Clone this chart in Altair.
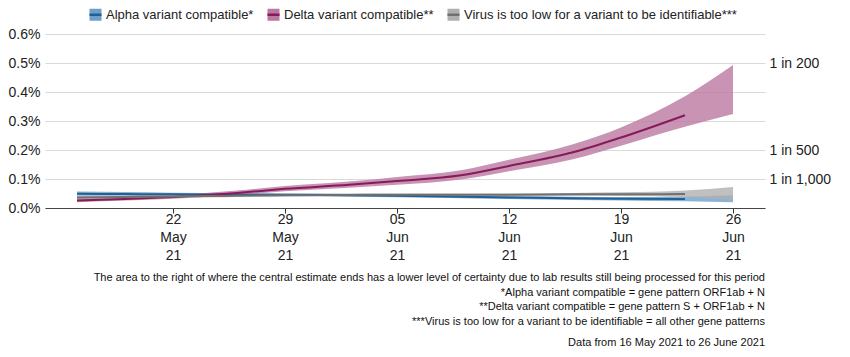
import altair as alt
import pandas as pd

series_names = [
    "Alpha variant compatible*",
    "Delta variant compatible**",
    "Virus is too low for a variant to be identifiable***",
]
line_colors = ["#206095", "#871a5b", "#707070"]
band_colors = ["#6f9fc9", "#bb79a1", "#b0b0b0"]

dates = ["2021-05-16", "2021-05-19", "2021-05-22", "2021-05-26", "2021-05-29",
         "2021-06-02", "2021-06-05", "2021-06-09", "2021-06-12", "2021-06-16",
         "2021-06-19", "2021-06-23", "2021-06-26"]

# values in percent
alpha_central = [0.049, 0.048, 0.047, 0.046, 0.046, 0.044, 0.042, 0.039, 0.036, 0.034, 0.032, 0.031, None]
alpha_low = [0.042, 0.042, 0.042, 0.041, 0.041, 0.039, 0.037, 0.034, 0.031, 0.028, 0.026, 0.023, 0.020]
alpha_high = [0.057, 0.055, 0.053, 0.051, 0.050, 0.049, 0.047, 0.044, 0.041, 0.039, 0.038, 0.040, 0.044]

delta_central = [0.026, 0.031, 0.038, 0.052, 0.066, 0.080, 0.093, 0.113, 0.145, 0.192, 0.243, 0.320, None]
delta_low = [0.020, 0.026, 0.032, 0.045, 0.058, 0.070, 0.080, 0.098, 0.127, 0.168, 0.215, 0.280, 0.324]
delta_high = [0.033, 0.037, 0.044, 0.060, 0.076, 0.091, 0.107, 0.130, 0.166, 0.220, 0.278, 0.385, 0.493]

grey_central = [0.036, 0.038, 0.040, 0.042, 0.044, 0.045, 0.046, 0.046, 0.046, 0.047, 0.047, 0.048, None]
grey_low = [0.031, 0.033, 0.035, 0.038, 0.040, 0.041, 0.042, 0.042, 0.042, 0.042, 0.041, 0.038, 0.028]
grey_high = [0.041, 0.043, 0.045, 0.047, 0.048, 0.049, 0.050, 0.050, 0.050, 0.052, 0.054, 0.060, 0.072]

left_ticks = [0, 0.1, 0.2, 0.3, 0.4, 0.5, 0.6]
right_ticks = [0.1, 0.2, 0.5]
x_tick_days = [(5, 22), (5, 29), (6, 5), (6, 12), (6, 19), (6, 26)]

footnotes = [
    "The area to the right of where the central estimate ends has a lower level of certainty due to lab results still being processed for this period",
    "*Alpha variant compatible = gene pattern ORF1ab + N",
    "**Delta variant compatible = gene pattern S + ORF1ab + N",
    "***Virus is too low for a variant to be identifiable = all other gene patterns",
]
source_note = "Data from 16 May 2021 to 26 June 2021"

rows = []
for name, c, lo, hi in [
    (series_names[0], alpha_central, alpha_low, alpha_high),
    (series_names[1], delta_central, delta_low, delta_high),
    (series_names[2], grey_central, grey_low, grey_high),
]:
    for d, cv, lv, hv in zip(dates, c, lo, hi):
        rows.append({"date": d, "series": name, "central": cv, "low": lv, "high": hv})
df = pd.DataFrame(rows)

FONT = "Liberation Sans"

x_enc = alt.X(
    "date:T",
    scale=alt.Scale(type="utc",
                    domain=[alt.DateTime(year=2021, month=5, date=14, utc=True),
                            alt.DateTime(year=2021, month=6, date=28, utc=True)]),
    axis=alt.Axis(
        title=None,
        values=[alt.DateTime(year=2021, month=m, date=d, utc=True) for m, d in x_tick_days],
        labelExpr="[utcFormat(datum.value, '%d'), utcFormat(datum.value, '%b'), utcFormat(datum.value, '%y')]",
        labelLineHeight=18,
        labelFontSize=14,
        labelFont=FONT,
        labelColor="#222222",
        labelPadding=-1,
        tickSize=5,
        tickColor="#333333",
        domainColor="#444444",
        grid=False,
    ),
)

y_scale = alt.Scale(domain=[0, 0.6], nice=False, zero=True)

legend_symbol = "M-1,0H1V-1H-1V1H1V0Z"
legend_props = dict(
    orient="none", legendX=43, legendY=-27, direction="horizontal", title=None,
    symbolType=legend_symbol, symbolSize=144, symbolDash=[12, 48],
    symbolStrokeWidth=2.5, labelFontSize=13, labelFont=FONT,
    labelColor="#222222", columnPadding=8, labelOffset=3, labelLimit=600,
)

area = alt.Chart(df).mark_area(fillOpacity=0.8, interpolate="monotone").encode(
    x=x_enc,
    y=alt.Y("low:Q", scale=y_scale,
            axis=alt.Axis(title=None, values=left_ticks,
                          labelExpr="format(datum.value, '.1f') + '%'",
                          labelFontSize=14, labelFont=FONT, labelColor="#222222",
                          domain=False, ticks=False, labelPadding=5,
                          grid=True, gridColor="#d9d9d9")),
    y2="high:Q",
    fill=alt.Fill("series:N",
                  scale=alt.Scale(domain=series_names, range=band_colors),
                  legend=alt.Legend(**legend_props)),
)

line = alt.Chart(df).transform_filter(
    "isValid(datum.central)"
).mark_line(strokeWidth=2, interpolate="monotone").encode(
    x=x_enc,
    y=alt.Y("central:Q", scale=y_scale,
            axis=alt.Axis(title=None, orient="right", values=right_ticks,
                          labelExpr="round(datum.value*10) == 5 ? '1 in 200' : (round(datum.value*10) == 2 ? '1 in 500' : '1 in 1,000')",
                          labelFontSize=14, labelFont=FONT, labelColor="#222222",
                          domain=False, ticks=False, labelPadding=4, grid=False)),
    stroke=alt.Stroke("series:N",
                      scale=alt.Scale(domain=series_names, range=line_colors),
                      legend=alt.Legend(**legend_props)),
)

chart = alt.layer(area, line).resolve_axis(y="independent").properties(
    width=720,
    height=174,
    autosize=alt.AutoSizeParams(type="none"),
    padding={"left": 45, "top": 34, "right": 85, "bottom": 149},
    title=alt.TitleParams(
        text=footnotes,
        subtitle=source_note,
        orient="bottom",
        anchor="end",
        align="right",
        frame="group",
        font=FONT,
        fontSize=11,
        fontWeight="normal",
        color="#111111",
        lineHeight=14.5,
        subtitleFont=FONT,
        subtitleFontSize=11,
        subtitleColor="#111111",
        subtitlePadding=10,
        offset=10,
    ),
).configure_view(stroke=None)

chart.save("out.html", embed_options={"renderer": "svg", "actions": False})
